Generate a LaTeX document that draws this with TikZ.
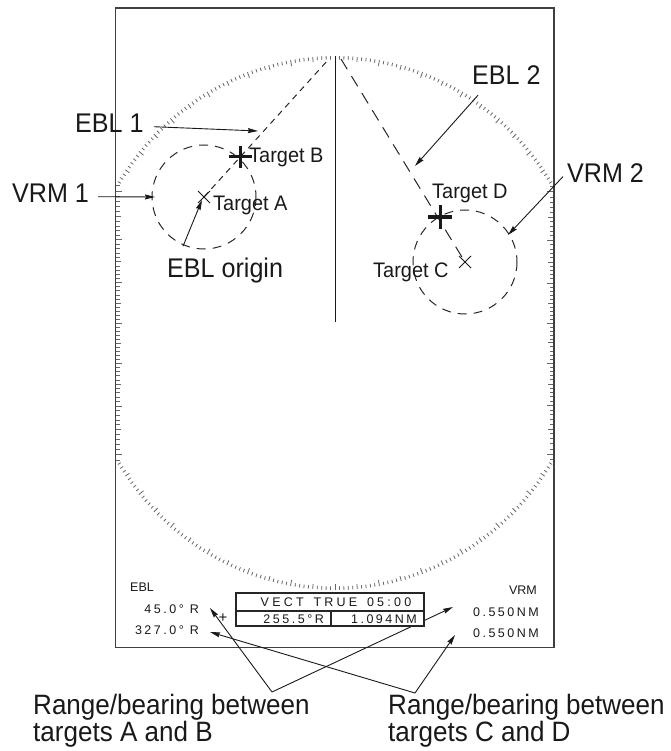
\documentclass[tikz,border=0pt]{standalone}
\usepackage{fontspec}
\setmainfont{Liberation Sans}
\newfontfamily\condfont[FakeStretch=0.93]{Liberation Sans}
\newfontfamily\tgtfont[FakeStretch=0.95]{Liberation Sans}
\newfontfamily\panelfont[LetterSpace=20]{Liberation Sans}
\newfontfamily\vectfont[LetterSpace=26]{Liberation Sans}
\usetikzlibrary{arrows.meta}
\tikzset{
 frame/.style={draw=black!75,line width=1.4pt},
 ringtick/.style={draw=black!60,line width=0.8pt},
 ebla/.style={draw=black!85,line width=1pt,dash pattern=on 6pt off 5pt},
 eblb/.style={draw=black!85,line width=1pt,dash pattern=on 12pt off 8pt},
 vrm/.style={draw=black!85,line width=1pt,dash pattern=on 9pt off 7pt},
 arr/.style={draw=black!90,line width=0.9pt,-{Stealth[length=10pt,width=5pt,inset=1pt]}},
 heading/.style={draw=black!90,line width=1pt},
 lbl/.style={inner sep=0pt,font=\condfont\fontsize{27}{30}\selectfont,text=black!90},
 tgt/.style={inner sep=0pt,font=\tgtfont\fontsize{21}{24}\selectfont,text=black!90},
 note/.style={inner sep=0pt,font=\condfont\fontsize{28}{30}\selectfont,text=black!90},
 pan/.style={inner sep=0pt,font=\panelfont\fontsize{12.5}{14}\selectfont,text=black!90},
 panh/.style={inner sep=0pt,font=\fontsize{12.5}{14}\selectfont,text=black!90},
 vect/.style={inner sep=0pt,font=\vectfont\fontsize{12.5}{14}\selectfont,text=black!90},
 panelbox/.style={draw=black!85,line width=1.2pt,fill=white},
 bigplus/.style={line width=3pt,draw=black!90},
 xmark/.style={line width=1pt,draw=black!90},
}
\begin{document}
\begin{tikzpicture}[x=1pt,y=-1pt]
\useasboundingbox (0,0) rectangle (670,751);

% key points
\coordinate (A) at (204,197);
\coordinate (B) at (240,157);
\coordinate (C) at (465,262);
\coordinate (D) at (440,217);
\coordinate (ctr) at (335,322);
\coordinate (ctop) at (335,56);
\coordinate (e1end) at (328,60);
\coordinate (e2end) at (341,59);

% range ring with bearing ticks
\begin{scope}
\clip (116,9) rectangle (553,646);
\foreach \a in {0,...,359}{
  \pgfmathsetmacro\ca{cos(\a)}
  \pgfmathsetmacro\sa{sin(\a)}
  \pgfmathsetmacro\ex{335+256*\ca}
  \pgfmathsetmacro\ey{323+267*\sa}
  \pgfmathsetmacro\len{mod(\a,10)==0 ? 6 : (mod(\a,5)==0 ? 5 : 3.5)}
  \pgfmathtruncatemacro\side{\ex<116 ? 1 : (\ex>553 ? 2 : 0)}
  \ifnum\side=0
    \draw[ringtick] (\ex,\ey) -- ++({-\len*\ca},{-\len*\sa});
  \else\ifnum\side=1
    \pgfmathsetmacro\fy{323+(116-335)/(256*\ca)*267*\sa}
    \draw[ringtick] (116,\fy) -- ++(\len,0);
  \else
    \pgfmathsetmacro\fy{323+(553-335)/(256*\ca)*267*\sa}
    \draw[ringtick] (553,\fy) -- ++(-\len,0);
  \fi\fi
}
\end{scope}

% frame
\draw[frame] (115.5,8) rectangle (554,647.5);

% heading line, EBLs, VRMs
\draw[heading] (ctop) -- (ctr);
\draw[ebla] (A) -- (e1end);
\draw[eblb] (e2end) -- (C);
\draw[vrm] (A) circle[radius=52];
\draw[vrm] (C) circle[radius=52];

% target markers
\draw[bigplus] ([xshift=-11.5pt]B) -- ([xshift=11.5pt]B) ([yshift=11pt]B) -- ([yshift=-11pt]B);
\draw[bigplus] ([xshift=-12pt]D) -- ([xshift=12pt]D) ([yshift=11.5pt]D) -- ([yshift=-11.5pt]D);
\draw[xmark] ([shift={(-6pt,6pt)}]A) -- ([shift={(6pt,-6pt)}]A) ([shift={(-6pt,-6pt)}]A) -- ([shift={(6pt,6pt)}]A);
\draw[xmark] ([shift={(-6pt,6pt)}]C) -- ([shift={(6pt,-6pt)}]C) ([shift={(-6pt,-6pt)}]C) -- ([shift={(6pt,6pt)}]C);

% target labels
\node[tgt,anchor=base west] (tB) at (249,163) {Target B};
\node[tgt,anchor=base west] (tA) at (213,211) {Target A};
\node[tgt,anchor=base west] (tD) at (432,199) {Target D};
\node[tgt,anchor=base west] (tC) at (373,277) {Target C};

% callout labels
\node[lbl,anchor=base west] (lebl1) at (75,133) {EBL 1};
\node[lbl,anchor=base west] (lvrm1) at (12,203) {VRM 1};
\node[lbl,anchor=base west] (lorig) at (167,277) {EBL origin};
\node[lbl,anchor=base west] (lebl2) at (472,85) {EBL 2};
\node[lbl,anchor=base west] (lvrm2) at (567,183) {VRM 2};

\coordinate (tebl1) at (258,131);
\coordinate (tvrm1) at (155,197);
\coordinate (torig) at (202,200);
\coordinate (tebl2) at (415,166);
\coordinate (tvrm2) at (508,235);

\draw[arr] ([xshift=10pt,yshift=-3pt]lebl1.east) -- (tebl1);
\draw[arr] ([xshift=9pt,yshift=-3pt]lvrm1.east) -- (tvrm1);
\draw[arr] ([xshift=16pt,yshift=11pt]lorig.north west) -- (torig);
\draw[arr] ([xshift=6pt,yshift=-10pt]lebl2.south west) -- (tebl2);
\draw[arr] ([xshift=-4pt,yshift=-3pt]lvrm2.west) -- (tvrm2);

% bottom notes
\node[note,anchor=base west] (nab1) at (33,714) {Range/bearing between};
\node[note,anchor=base west] (nab2) at (33,741) {targets A and B};
\node[note,anchor=base west] (ncd1) at (388,714) {Range/bearing between};
\node[note,anchor=base west] (ncd2) at (388,741) {targets C and D};

\coordinate (ab) at (272,692);
\coordinate (cd) at (415,693);
\coordinate (tab1) at (210,608);
\coordinate (tab2) at (453,607);
\coordinate (tcd1) at (210,632);
\coordinate (tcd2) at (455,635);
\draw[arr] (ab) -- (tab1);
\draw[arr] (ab) -- (tab2);
\draw[arr] (cd) -- (tcd1);
\draw[arr] (cd) -- (tcd2);

% data panel
\node[panelbox,minimum width=188pt,minimum height=33pt,inner sep=0pt] (vbox) at (330,609.5) {};
\draw[draw=black!85,line width=1.2pt] (vbox.west |- 0,611) -- (vbox.east |- 0,611);
\draw[draw=black!85,line width=1.2pt] (331,611) -- (331,626);

\node[vect] (vect) at (336,602.5) {VECT \kern3pt TRUE \kern3pt 05:00};
\node[pan,anchor=base east] (brg) at (324,623) {255.5°R};
\node[pan,anchor=base east] (rng) at (417,623) {1.094NM};

\node[panh,anchor=base west] (hebl) at (130,591) {EBL};
\node[pan,anchor=base east] (ebl1v) at (199,613) {45.0° R};
\node[pan,anchor=base east] (ebl2v) at (199,634) {327.0° R};
\node[inner sep=0pt,font=\fontsize{15}{16}\selectfont,text=black!90] (pl) at (223,618) {+};

\node[panh,anchor=base east] (hvrm) at (537,594) {VRM};
\node[pan,anchor=base east] (vrm1v) at (539,616) {0.550NM};
\node[pan,anchor=base east] (vrm2v) at (539,637) {0.550NM};
\end{tikzpicture}
\end{document}
